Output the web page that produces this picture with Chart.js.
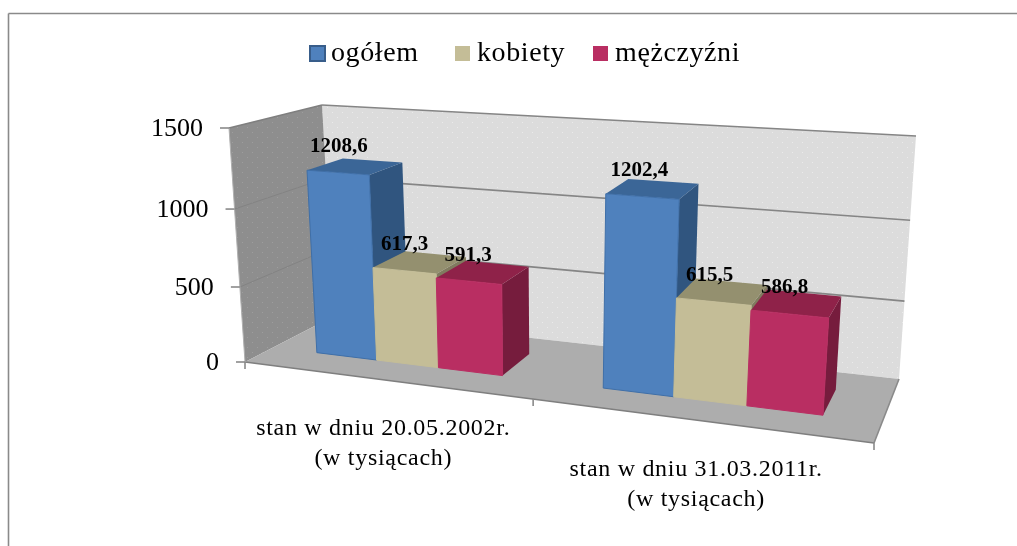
<!DOCTYPE html>
<html>
<head>
<meta charset="utf-8">
<title>Ludność</title>
<script src="https://cdn.jsdelivr.net/npm/chart.js@4"></script>
<style>
  html, body { margin: 0; padding: 0; background: #fff; overflow: hidden; }
  canvas { display: block; }
</style>
</head>
<body>
<canvas id="chart" width="1017" height="546"></canvas>
<script>
const categories = [
    ["stan w dniu 20.05.2002r.", "(w tysiącach)"],
    ["stan w dniu 31.03.2011r.", "(w tysiącach)"]
];
const ogolem = [1208.6, 1202.4];
const kobiety = [617.3, 615.5];
const mezczyzni = [591.3, 586.8];
const yTicks = [0, 500, 1000, 1500];

const seriesNames = ["ogółem", "kobiety", "mężczyźni"];
const front = ["#4f81bd", "#c4bd97", "#b92e62"];
const top3d = ["#3b6697", "#94906f", "#8f2249"];
const side = ["#30557f", "#807b5f", "#761c3d"];
const edge = ["#3f6fa8", "#c4bd97", "#b92e62"];

const serif = '"Liberation Serif", serif';

// corners of the 3d box on the page: u = along x, v = up, d = into the picture
const box = {
    f0: [245, 362], f1: [874, 443], f2: [229, 128], f3: [893, 173.5],
    b0: [334, 316], b1: [899, 379], b2: [322, 105], b3: [916, 136]
};

function lerp(a, b, t) { return [a[0] + (b[0] - a[0]) * t, a[1] + (b[1] - a[1]) * t]; }

// perspective squeeze, left part of x and upper part of y come out a bit smaller
function warpU(u) { return u / (1 + 0.183 * (1 - u)); }
function warpV(v) { return v / (1 + 0.06 * (1 - v)); }

function project(u, v, d) {
    const uu = warpU(u), vv = warpV(v);
    const low = lerp(lerp(box.f0, box.f1, uu), lerp(box.b0, box.b1, uu), d);
    const high = lerp(lerp(box.f2, box.f3, uu), lerp(box.b2, box.b3, uu), d);
    return lerp(low, high, vv);
}

function poly(ctx, pts, fill, stroke, lw) {
    ctx.beginPath();
    pts.forEach((p, i) => i ? ctx.lineTo(p[0], p[1]) : ctx.moveTo(p[0], p[1]));
    ctx.closePath();
    if (fill) { ctx.fillStyle = fill; ctx.fill(); }
    if (stroke) { ctx.strokeStyle = stroke; ctx.lineWidth = lw || 1; ctx.stroke(); }
}

function line(ctx, a, b, color, lw) {
    ctx.beginPath();
    ctx.moveTo(a[0], a[1]);
    ctx.lineTo(b[0], b[1]);
    ctx.strokeStyle = color;
    ctx.lineWidth = lw;
    ctx.stroke();
}

function dotted(ctx, base, dot) {
    const c = document.createElement("canvas");
    c.width = 10; c.height = 10;
    const g = c.getContext("2d");
    g.fillStyle = base; g.fillRect(0, 0, 10, 10);
    g.fillStyle = dot;
    g.fillRect(2, 2, 1, 1);
    g.fillRect(7, 7, 1, 1);
    return ctx.createPattern(c, "repeat");
}

const box3dPlugin = {
    id: "box3d",
    beforeDatasetsDraw(chart) {
        const ctx = chart.ctx;
        const xs = chart.scales.x, ys = chart.scales.y;
        const vOf = val => (ys.bottom - ys.getPixelForValue(val)) / (ys.bottom - ys.top);

        ctx.save();

        // frame of the picture
        line(ctx, [8.5, 13.5], [1017, 13.5], "#8a8a8a", 1.6);
        line(ctx, [8.5, 13.5], [8.5, 546], "#8a8a8a", 1.6);

        // walls and floor
        poly(ctx, [box.b0, box.b1, box.b3, box.b2], dotted(ctx, "#dcdcdc", "#ebebeb"));
        poly(ctx, [box.f0, box.b0, box.b2, box.f2], dotted(ctx, "#8e8e8e", "#9e9e9e"));
        poly(ctx, [box.f0, box.f1, box.b1, box.b0], "#adadad");

        // gridlines
        ys.ticks.forEach(t => {
            const v = vOf(t.value);
            if (v > 0) {
                line(ctx, project(0, v, 1), project(1, v, 1), "#858585", 1.6);
                line(ctx, project(0, v, 0), project(0, v, 1), v < 1 ? "#838383" : "#7f7f7f", v < 1 ? 1 : 1.6);
            }
        });
        line(ctx, box.f0, box.f1, "#7f7f7f", 1.6);
        line(ctx, box.f1, box.b1, "#8a8a8a", 1.6);
        line(ctx, box.f0, box.f2, "#b0b0b0", 1);

        // axis ticks and labels
        ctx.font = "26px " + serif;
        ctx.textAlign = "right";
        ctx.textBaseline = "middle";
        ys.ticks.forEach(t => {
            const p = project(0, vOf(t.value), 0);
            line(ctx, p, [p[0] - 9, p[1]], "#8a8a8a", 1.6);
            ctx.fillStyle = "#000";
            ctx.fillText(t.label, p[0] - 26, p[1] + 1);
        });
        [0, 0.5, 1].forEach(u => {
            const p = project(u, 0, 0);
            line(ctx, p, [p[0], p[1] + 7], "#8a8a8a", 1.6);
        });

        ctx.font = "24px " + serif;
        ctx.letterSpacing = "0.7px";
        ctx.textAlign = "center";
        ctx.textBaseline = "alphabetic";
        xs.ticks.forEach((t, i) => {
            const u = (xs.getPixelForTick(i) - xs.left) / (xs.right - xs.left);
            const p = project(u, 0, 0);
            categories[i].forEach((txt, k) => ctx.fillText(txt, p[0], p[1] + 55.5 + k * 30));
        });
        ctx.letterSpacing = "0px";

        // bars, left to right so that each one hides the side of the previous
        const d0 = 0.32, d1 = 0.73;
        xs.ticks.forEach((t, j) => {
            chart.data.datasets.forEach((ds, i) => {
                const bar = chart.getDatasetMeta(i).data[j];
                const u0 = (bar.x - bar.width / 2 - xs.left) / (xs.right - xs.left);
                const u1 = (bar.x + bar.width / 2 - xs.left) / (xs.right - xs.left);
                const v0 = (ys.bottom - bar.base) / (ys.bottom - ys.top);
                const v1 = (ys.bottom - bar.y) / (ys.bottom - ys.top);
                poly(ctx, [project(u1, v0, d0), project(u1, v0, d1), project(u1, v1, d1), project(u1, v1, d0)], side[i]);
                poly(ctx, [project(u0, v1, d0), project(u1, v1, d0), project(u1, v1, d1), project(u0, v1, d1)], top3d[i]);
                poly(ctx, [project(u0, v0, d0), project(u1, v0, d0), project(u1, v1, d0), project(u0, v1, d0)], front[i], edge[i], 1);
            });
        });

        // value labels
        ctx.font = "bold 21px " + serif;
        ctx.textAlign = "center";
        ctx.textBaseline = "middle";
        ctx.fillStyle = "#000";
        xs.ticks.forEach((t, j) => {
            chart.data.datasets.forEach((ds, i) => {
                const bar = chart.getDatasetMeta(i).data[j];
                const u = (bar.x - xs.left) / (xs.right - xs.left);
                const v = (ys.bottom - bar.y) / (ys.bottom - ys.top);
                const p = project(u, v, d0);
                const txt = ds.data[j].toFixed(1).replace(".", ",");
                ctx.fillText(txt, p[0] + 2 - 8 * warpU(u), p[1] - 26);
            });
        });

        // legend
        const legendX = [309, 455, 593];
        const textX = [331, 477, 615];
        ctx.font = "28px " + serif;
        ctx.letterSpacing = "0.6px";
        ctx.textAlign = "left";
        ctx.textBaseline = "alphabetic";
        seriesNames.forEach((name, i) => {
            if (i === 0) {
                ctx.fillStyle = "#4f81bd";
                ctx.fillRect(310, 46, 15, 15);
                ctx.strokeStyle = "#385d8a";
                ctx.lineWidth = 2;
                ctx.strokeRect(310, 46, 15, 15);
            } else {
                ctx.fillStyle = front[i];
                ctx.fillRect(legendX[i], 46, 15, 15);
            }
            ctx.fillStyle = "#000";
            ctx.fillText(name, textX[i], 61);
        });

        ctx.restore();
        return false; // plain 2d bars are not drawn, the 3d ones replace them
    }
};

new Chart(document.getElementById("chart"), {
    type: "bar",
    data: {
        labels: categories,
        datasets: seriesNames.map((name, i) => ({
            label: name,
            data: [ogolem, kobiety, mezczyzni][i],
            backgroundColor: front[i],
            categoryPercentage: 0.667,
            barPercentage: 1
        }))
    },
    options: {
        responsive: false,
        animation: false,
        layout: { padding: { left: 245, right: 143, top: 128, bottom: 184 } },
        plugins: { legend: { display: false }, tooltip: { enabled: false } },
        scales: {
            x: { ticks: { display: false }, grid: { display: false }, border: { display: false } },
            y: {
                min: yTicks[0],
                max: yTicks[yTicks.length - 1],
                afterBuildTicks(scale) { scale.ticks = yTicks.map(v => ({ value: v })); },
                ticks: { display: false, callback: v => String(v) },
                grid: { display: false },
                border: { display: false }
            }
        }
    },
    plugins: [box3dPlugin]
});
</script>
</body>
</html>
